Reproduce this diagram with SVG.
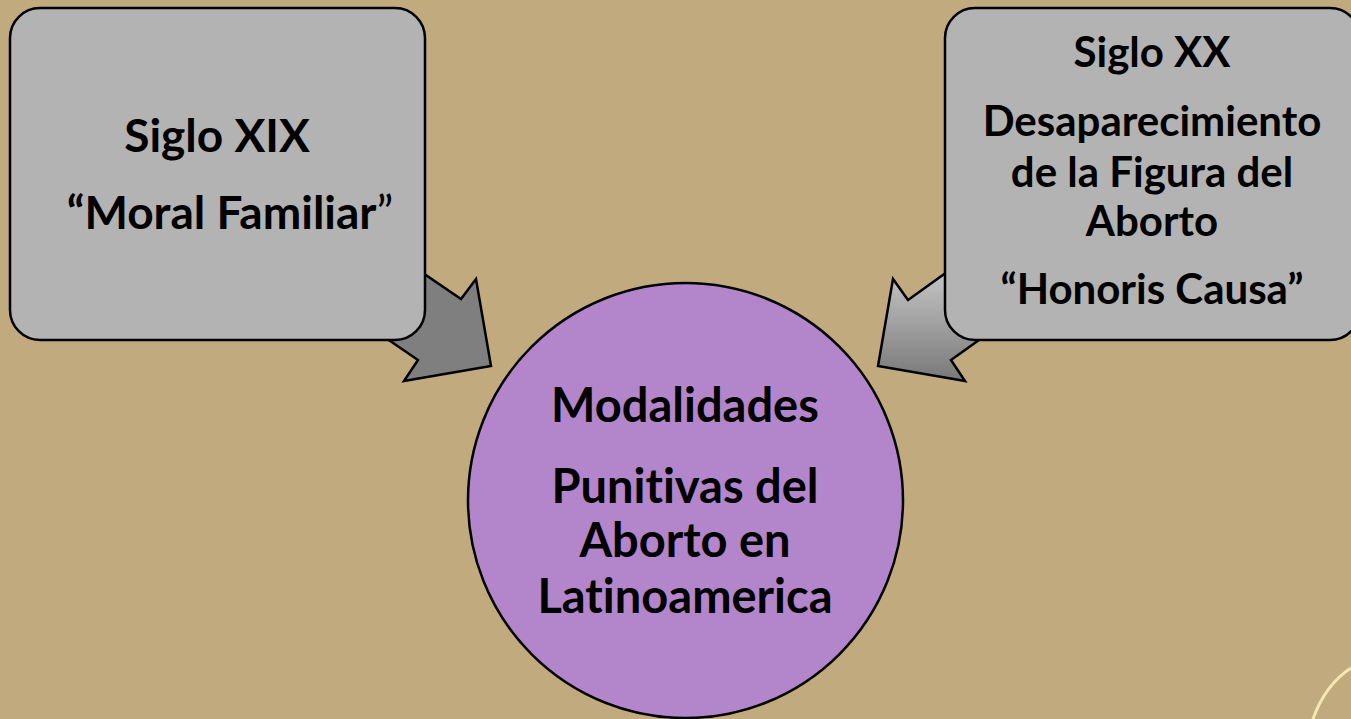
<svg xmlns="http://www.w3.org/2000/svg" width="1351" height="719" viewBox="0 0 1351 719">
<style>
.box{fill:#b3b3b3;stroke:#000;stroke-width:2.5}
.arrow{stroke:#000;stroke-width:2.5;stroke-linejoin:miter}
.t{font-family:Lato,"Open Sans",sans-serif;font-weight:bold;fill:#000;text-anchor:middle;font-variant-ligatures:none}
</style>
<defs>
<linearGradient id="gR" x1="0" y1="0" x2="0" y2="1">
<stop offset="0" stop-color="#dcdcdc"/>
<stop offset="1" stop-color="#787878"/>
</linearGradient>
</defs>
<rect width="1351" height="719" fill="#c0aa7e"/>
<path d="M1313,719 Q1325,685 1351,668" fill="none" stroke="#f6e7b2" stroke-width="3"/>
<g id="connectors">
<polygon class="arrow" fill="#7f7f7f" points="376,241 461,299 476,279 491,366 404,381 418,360 342,308"/>
<polygon class="arrow" fill="url(#gR)" points="993,239 908,300 893,279 878,366 965,381 951,360 1028,305"/>
</g>
<g id="node-left">
<rect class="box" x="10" y="8" width="415" height="332" rx="30" ry="30"/>
<text class="t" x="217" y="152" font-size="46">Siglo XIX</text>
<text class="t" x="230" y="229" font-size="46">“Moral Familiar<tspan font-weight="normal">”</tspan></text>
</g>
<g id="node-right">
<rect class="box" x="945" y="8" width="415" height="332" rx="30" ry="30"/>
<text class="t" x="1152" y="67" font-size="42">Siglo XX</text>
<text class="t" x="1152" y="136" font-size="42">Desaparecimiento</text>
<text class="t" x="1152" y="187" font-size="42">de la Figura del</text>
<text class="t" x="1152" y="236" font-size="42">Aborto</text>
<text class="t" x="1152" y="304" font-size="42">“Honoris Causa”</text>
</g>
<g id="node-center">
<circle cx="685.5" cy="500.5" r="217.5" fill="#b385cb" stroke="#000" stroke-width="2.5"/>
<text class="t" x="685" y="422" font-size="47">Modalidades</text>
<text class="t" x="685" y="503" font-size="47">Punitivas del</text>
<text class="t" x="685" y="557" font-size="47">Aborto en</text>
<text class="t" x="685" y="613" font-size="47">Latinoamerica</text>
</g>
</svg>
